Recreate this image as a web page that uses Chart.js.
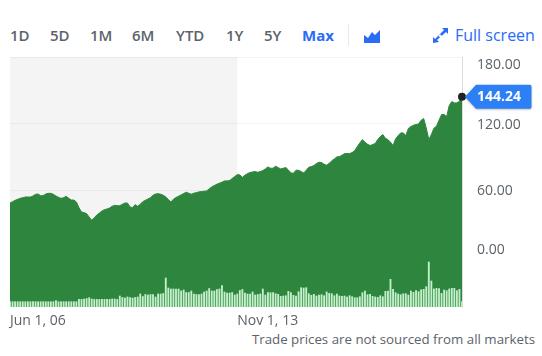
<!DOCTYPE html>
<html>
<head>
<meta charset="utf-8">
<script src="https://cdn.jsdelivr.net/npm/chart.js@4"></script>
<style>
    html, body { margin: 0; padding: 0; background: #fff; overflow: hidden; }
    #wrap { position: relative; width: 542px; height: 356px; font-family: "Open Sans", sans-serif; }
    #priceChart { position: absolute; left: 0; top: 0; }
    .range { position: absolute; top: 25px; font-size: 15px; line-height: 20px; font-weight: 600; color: #5b636a; }
    .blue { color: #2a6cf6; }
    #note { position: absolute; right: 7px; top: 330px; font-size: 13.3px; line-height: 18px; color: #5b636a; }
    #sep { position: absolute; left: 348px; top: 24px; width: 1px; height: 22px; background: #e6e8ea; }
    svg { position: absolute; }
</style>
</head>
<body>
<div id="wrap">
    <span class="range" style="left:10px">1D</span>
    <span class="range" style="left:50px">5D</span>
    <span class="range" style="left:90px">1M</span>
    <span class="range" style="left:132px">6M</span>
    <span class="range" style="left:176px">YTD</span>
    <span class="range" style="left:226px">1Y</span>
    <span class="range" style="left:264px">5Y</span>
    <span class="range blue" style="left:302px;font-weight:700">Max</span>
    <div id="sep"></div>
    <svg style="left:363px;top:29px" width="18" height="15" viewBox="0 0 18 15">
        <path d="M1 6 L5 9 L9 3 L12 6 L17 1 L17 14 L1 14 Z" fill="#2a6cf6"/>
    </svg>
    <svg style="left:432px;top:27px" width="17" height="17" viewBox="0 0 17 17">
        <path d="M10 1 L16 1 L16 7 L14 5 L5 13 L7 15 L1 16 L1 10 L3 12 L12 3 Z" fill="#2a6cf6"/>
        <path d="M7.2 8 L9.2 10" stroke="#fff" stroke-width="2.4"/>
    </svg>
    <span class="range blue" style="left:455px;top:24px;font-size:16px;line-height:22px;font-weight:400">Full screen</span>
    <span id="note">Trade prices are not sourced from all markets</span>
    <canvas id="priceChart" width="542" height="356"></canvas>
</div>
<script>
const priceValues = [
    48.6, 49.8, 51, 51.9, 52.8, 53.4, 54, 54, 54, 54.9, 56.4, 56.7, 55.2, 55.2, 56.7, 57.3, 57.3, 56.4, 54.9, 53.7,
    52.8, 53.4, 54.6, 52.8, 51.3, 51.3, 49.5, 44.4, 40.5, 39.9, 39, 36, 33, 35.4, 37.8, 39.6, 41.4, 42.6, 43.2, 44.1,
    45.6, 46.5, 46.2, 46.2, 47.4, 48.6, 48.6, 45, 44.4, 47.1, 45.6, 47.4, 49.8, 51, 52.2, 53.4, 55.5, 56.7, 57,
    56.5, 55.6, 54.1, 51.7, 49.6, 52, 53.5, 54.7, 55.9, 57.1, 58.3, 57.4, 56.5, 57.4, 58, 58.6, 58.9, 59.2, 59.5, 61.3,
    63.1, 64.3, 65.5, 66.4, 67.3, 68.5, 68.5, 68.8, 70.6, 72.4, 74.2, 73.9, 71.8, 73.6, 75.1, 76, 76.6, 76.9, 76.3, 76.9,
    77.8, 79.3, 81.1, 79.9, 79.9, 81.7, 80.5, 79.3, 79.9, 80.5, 78.4, 75.7, 75.4, 78.1, 78.1, 76.9, 75.7, 78.1, 80.8,
    81.4, 82.3, 84.1, 85.3, 85, 83.5, 82.6, 84.4, 86.5, 88.3, 90.1, 90.4, 91.6, 93.1, 93.1, 93.1, 94, 95.8, 99.4, 102.7,
    105.7, 103.3, 101.5, 100.3, 101.2, 102.1, 105.7, 108.4, 110.2, 106.9, 105.7, 103.3, 100.3, 106.3, 109.3, 111.7, 111.7, 109.3, 115.6, 117.4,
    118.6, 119.2, 119.8, 123.1, 124.6, 116.2, 105.7, 110.2, 115.9, 117.7, 123.1, 128.2, 128.2, 126.4, 136.3, 139.9, 138.7, 138.7, 140.2, 144.24
];
const volumeValues = [
    5.3, 5.3, 5.3, 5.3, 5.3, 5.3, 5.3, 5.3, 5.3, 5.3, 5.3, 5.3, 5.3, 5.3, 5.3, 5.3, 5.3, 5.3, 6.3, 5.3,
    5.3, 5.3, 5.3, 5.3, 5.3, 5.3, 5.3, 7.6, 7.6, 8, 8.5, 9.3, 8, 7.6, 7.6, 7.6, 7.6, 7.6, 7.6, 7.6,
    8, 8, 7.6, 11, 9.5, 9, 10, 9.5, 9, 9.5, 10, 13, 10.5, 12.5, 12, 12.5, 12.5, 10, 13, 13,
    13.5, 29, 19, 18, 18, 18, 18, 16, 17, 14.5, 14.5, 16, 13, 12.5, 12.5, 13, 15, 16, 18.5, 16,
    16, 17.5, 18, 21.5, 15, 14, 14, 14.5, 12, 13, 16.5, 17.5, 14, 13, 13, 15, 12, 12.5, 13, 18,
    12, 14.5, 14.3, 14.3, 13.3, 12.7, 10.7, 11, 11.3, 15.7, 14.3, 11.7, 11, 15.3, 19.3, 19, 19.3, 13.3, 11.7, 12.7,
    11, 12, 12.3, 11.3, 15, 13.7, 13.3, 11.3, 13, 11, 10.7, 11, 10, 11.3, 10.3, 9.3, 9.3, 10.3, 14.3, 16,
    12.3, 12.7, 10.7, 10, 9.7, 11.3, 10.3, 15.7, 16, 27.7, 17.7, 14.3, 13, 12.3, 13.3, 13.3, 12, 16, 14.7, 16.3,
    15.3, 17.3, 17.7, 20.3, 45, 26, 18, 18.7, 18.3, 13.7, 17, 16.3, 18, 18.7, 18.7, 16.3, 17.7, 5.3
];
const yTicks = [0, 60, 120, 180];
const xTickIndexes = [0, 89];
const xTickLabels = ['Jun 1, 06', 'Nov 1, 13'];

const labels = priceValues.map((_, i) => 'm' + i);
const lastIndex = priceValues.length - 1;

const greenFill = '#2e863e';
const labelFont = '14px "Open Sans", sans-serif';

// grey area left of the second date tick
const shadePlugin = {
    id: 'shade',
    beforeDraw(chart) {
        const { ctx, chartArea, scales } = chart;
        const right = scales.x.getPixelForValue(xTickIndexes[1]);
        ctx.save();
        ctx.fillStyle = '#f4f4f4';
        ctx.fillRect(chartArea.left, chartArea.top, right - chartArea.left, chartArea.height);
        ctx.restore();
    }
};

// price labels on the right and the blue last price tag
const priceLabelPlugin = {
    id: 'priceLabels',
    afterDraw(chart) {
        const { ctx, scales } = chart;
        ctx.save();
        ctx.font = labelFont;
        ctx.textAlign = 'left';
        ctx.textBaseline = 'middle';
        ctx.fillStyle = '#5b636a';
        yTicks.forEach(tick => {
            let y = scales.y.getPixelForValue(tick) + 1;
            if (tick === 180) y += 7;
            if (tick === 0) y -= 7.5;
            ctx.fillText(tick.toFixed(2), 477, y);
        });

        const last = priceValues[lastIndex];
        const tagY = scales.y.getPixelForValue(last);
        ctx.fillStyle = '#2d7ff5';
        ctx.shadowColor = 'rgba(0,0,0,0.25)';
        ctx.shadowBlur = 2;
        ctx.shadowOffsetY = 1;
        ctx.beginPath();
        ctx.moveTo(465, tagY);
        ctx.lineTo(476, tagY - 12);
        ctx.lineTo(530, tagY - 12);
        ctx.quadraticCurveTo(531.5, tagY - 12, 531.5, tagY - 10);
        ctx.lineTo(531.5, tagY + 10);
        ctx.quadraticCurveTo(531.5, tagY + 12, 530, tagY + 12);
        ctx.lineTo(476, tagY + 12);
        ctx.closePath();
        ctx.fill();
        ctx.shadowColor = 'transparent';
        ctx.fillStyle = '#fff';
        ctx.font = 'bold 14px "Open Sans", sans-serif';
        ctx.fillText(last.toFixed(2), 477, tagY + 0.5);
        ctx.restore();
    }
};

new Chart(document.getElementById('priceChart'), {
    data: {
        labels: labels,
        datasets: [
            {
                type: 'bar',
                label: 'Volume',
                data: volumeValues,
                yAxisID: 'yVolume',
                backgroundColor: '#c4efcb',
                barThickness: 1.2,
                order: 1
            },
            {
                type: 'line',
                label: 'Price',
                data: priceValues,
                yAxisID: 'y',
                borderColor: greenFill,
                borderWidth: 1,
                backgroundColor: greenFill,
                fill: 'start',
                tension: 0,
                clip: false,
                pointRadius: ctx => (ctx.dataIndex === lastIndex ? 4 : 0),
                pointBackgroundColor: '#1f2328',
                pointBorderWidth: 0,
                order: 2
            }
        ]
    },
    plugins: [shadePlugin, priceLabelPlugin],
    options: {
        responsive: false,
        animation: false,
        events: [],
        layout: { padding: { left: 10, right: 80, top: 57, bottom: 19 } },
        plugins: { legend: { display: false }, tooltip: { enabled: false } },
        scales: {
            x: {
                type: 'category',
                offset: false,
                grid: { display: false },
                border: { display: false },
                afterFit(axis) { axis.height = 30; },
                ticks: {
                    autoSkip: false,
                    maxRotation: 0,
                    align: 'start',
                    padding: -2,
                    color: '#5b636a',
                    font: { family: '"Open Sans", sans-serif', size: 14 },
                    callback(value, index) {
                        const at = xTickIndexes.indexOf(index);
                        return at >= 0 ? xTickLabels[at] : '';
                    }
                }
            },
            y: {
                position: 'right',
                min: -45,
                max: 180,
                afterBuildTicks(axis) { axis.ticks = yTicks.map(value => ({ value })); },
                afterFit(axis) { axis.width = 0; },
                grid: { color: 'rgba(0,0,0,0.045)', drawTicks: false },
                border: { color: '#dcdcdc' },
                ticks: { display: false }
            },
            yVolume: {
                display: false,
                min: 0,
                max: 250
            }
        }
    }
});
</script>
</body>
</html>
